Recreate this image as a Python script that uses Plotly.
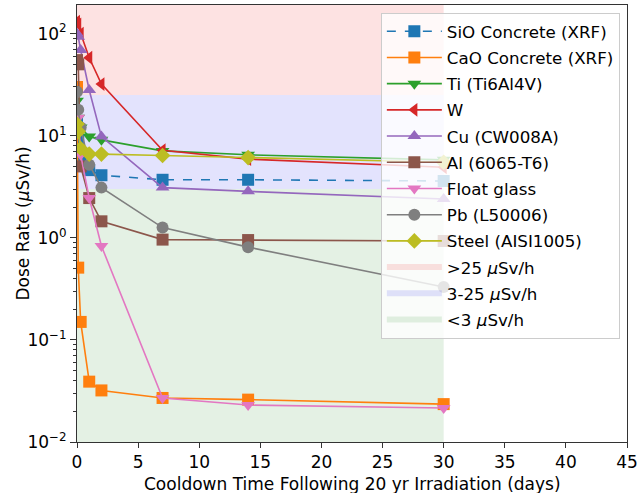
import plotly.graph_objects as go

# cooldown times (days)
times = [0, 0.1, 0.3, 1, 2, 7, 14, 30]

sio_concrete = [13, 9.0, 6.0, 4.6, 4.1, 3.7, 3.7, 3.6]
cao_concrete = [30, 0.51, 0.15, 0.039, 0.032, 0.027, 0.026, 0.0235]
ti_alloy = [22, 15, 12, 9.8, 9.1, 7.1, 6.5, 5.8]
tungsten = [131, 123, 100, 58, 32, 7.2, 5.9, 4.9]
copper = [100, 93, 69, 28, 9.8, 3.1, 2.85, 2.4]
aluminium = [55, 50, 5.0, 2.45, 1.45, 0.96, 0.95, 0.93]
float_glass = [17, 15, 6.5, 2.45, 0.83, 0.027, 0.023, 0.0215]
lead = [27, 18, 12, 5.2, 3.1, 1.26, 0.81, 0.33]
steel = [13, 11, 7.5, 6.6, 6.6, 6.4, 6.1, 5.5]

series_names = ["SiO Concrete (XRF)", "CaO Concrete (XRF)", "Ti (Ti6Al4V)", "W",
                "Cu (CW008A)", "Al (6065-T6)", "Float glass", "Pb (L50006)",
                "Steel (AISI1005)"]
series_values = [sio_concrete, cao_concrete, ti_alloy, tungsten, copper,
                 aluminium, float_glass, lead, steel]

# dose-rate zones
zone_names = [">25 <i>μ</i>Sv/h", "3-25 <i>μ</i>Sv/h", "<3 <i>μ</i>Sv/h"]
zone_low = [25, 3, 0.001]
zone_high = [10000, 25, 3]
zone_end_day = 30

y_tick_vals = [0.01, 0.1, 1, 10, 100]
y_tick_text = ["10<sup>−2</sup>", "10<sup>−1</sup>", "10<sup>0</sup>",
               "10<sup>1</sup>", "10<sup>2</sup>"]

x_title = "Cooldown Time Following 20 yr Irradiation (days)"
y_title = "Dose Rate (<i>μ</i>Sv/h)"

colors = ["#1f77b4", "#ff7f0e", "#2ca02c", "#d62728", "#9467bd", "#8c564b",
          "#e377c2", "#7f7f7f", "#bcbd22"]
symbols = ["square", "square", "triangle-down", "triangle-left", "triangle-up",
           "square", "triangle-down", "circle", "diamond"]
dashes = ["dash"] + ["solid"] * 8
zone_colors = ["rgba(240,60,60,0.15)", "rgba(60,60,240,0.14)", "rgba(44,150,44,0.13)"]

fig = go.Figure()

for name, lo, hi, col in zip(zone_names, zone_low, zone_high, zone_colors):
    fig.add_trace(go.Scatter(
        x=[0, zone_end_day, zone_end_day, 0, 0], y=[lo, lo, hi, hi, lo],
        fill="toself", fillcolor=col, mode="none", name=name,
        legendgroup=name, legendrank=2000, hoverinfo="skip"))

for name, vals, col, sym, dash in zip(series_names, series_values, colors, symbols, dashes):
    fig.add_trace(go.Scatter(
        x=times, y=vals, name=name, mode="lines+markers",
        line=dict(color=col, width=1.6, dash=dash),
        marker=dict(color=col, symbol=sym, size=12, line=dict(width=0)),
        legendgroup=name, legendrank=1000))

fig.update_layout(
    width=638, height=493,
    margin=dict(l=77, r=11, t=5, b=51, autoexpand=False),
    paper_bgcolor="white", plot_bgcolor="white",
    font=dict(family="DejaVu Sans", size=17, color="black"),
    showlegend=True,
    legend=dict(x=0.987, y=0.982, xanchor="right", yanchor="top",
                bgcolor="rgba(255,255,255,0.8)", bordercolor="#cccccc",
                borderwidth=1, font=dict(size=16.7), tracegroupgap=1.5,
                itemwidth=55),
    annotations=[
        dict(text=x_title, xref="paper", yref="paper", x=0.5, y=-0.095,
             xanchor="center", yanchor="middle", showarrow=False,
             font=dict(size=17)),
        dict(text=y_title, xref="paper", yref="paper", x=-0.1, y=0.5,
             xanchor="center", yanchor="middle", textangle=-90, showarrow=False,
             font=dict(size=17)),
    ],
)
fig.update_xaxes(
    range=[0, 45], dtick=5, tick0=0, showgrid=False, zeroline=False,
    automargin=False,
    showline=True, mirror=True, linecolor="#333333", linewidth=1,
    ticks="outside", ticklen=5, tickcolor="#333333")
fig.update_yaxes(
    type="log", range=[-2, 2.28], tickvals=y_tick_vals, ticktext=y_tick_text,
    showgrid=False, zeroline=False, automargin=False,
    showline=True, mirror=True, linecolor="#333333", linewidth=1,
    ticks="outside", ticklen=6, tickcolor="#333333",
    minor=dict(ticks="outside", ticklen=3, tickcolor="#333333", dtick="D1", showgrid=False))

fig.write_html("out.html", config={"displayModeBar": False},
               post_script="document.body.style.margin='0';document.body.style.overflow='hidden';")
